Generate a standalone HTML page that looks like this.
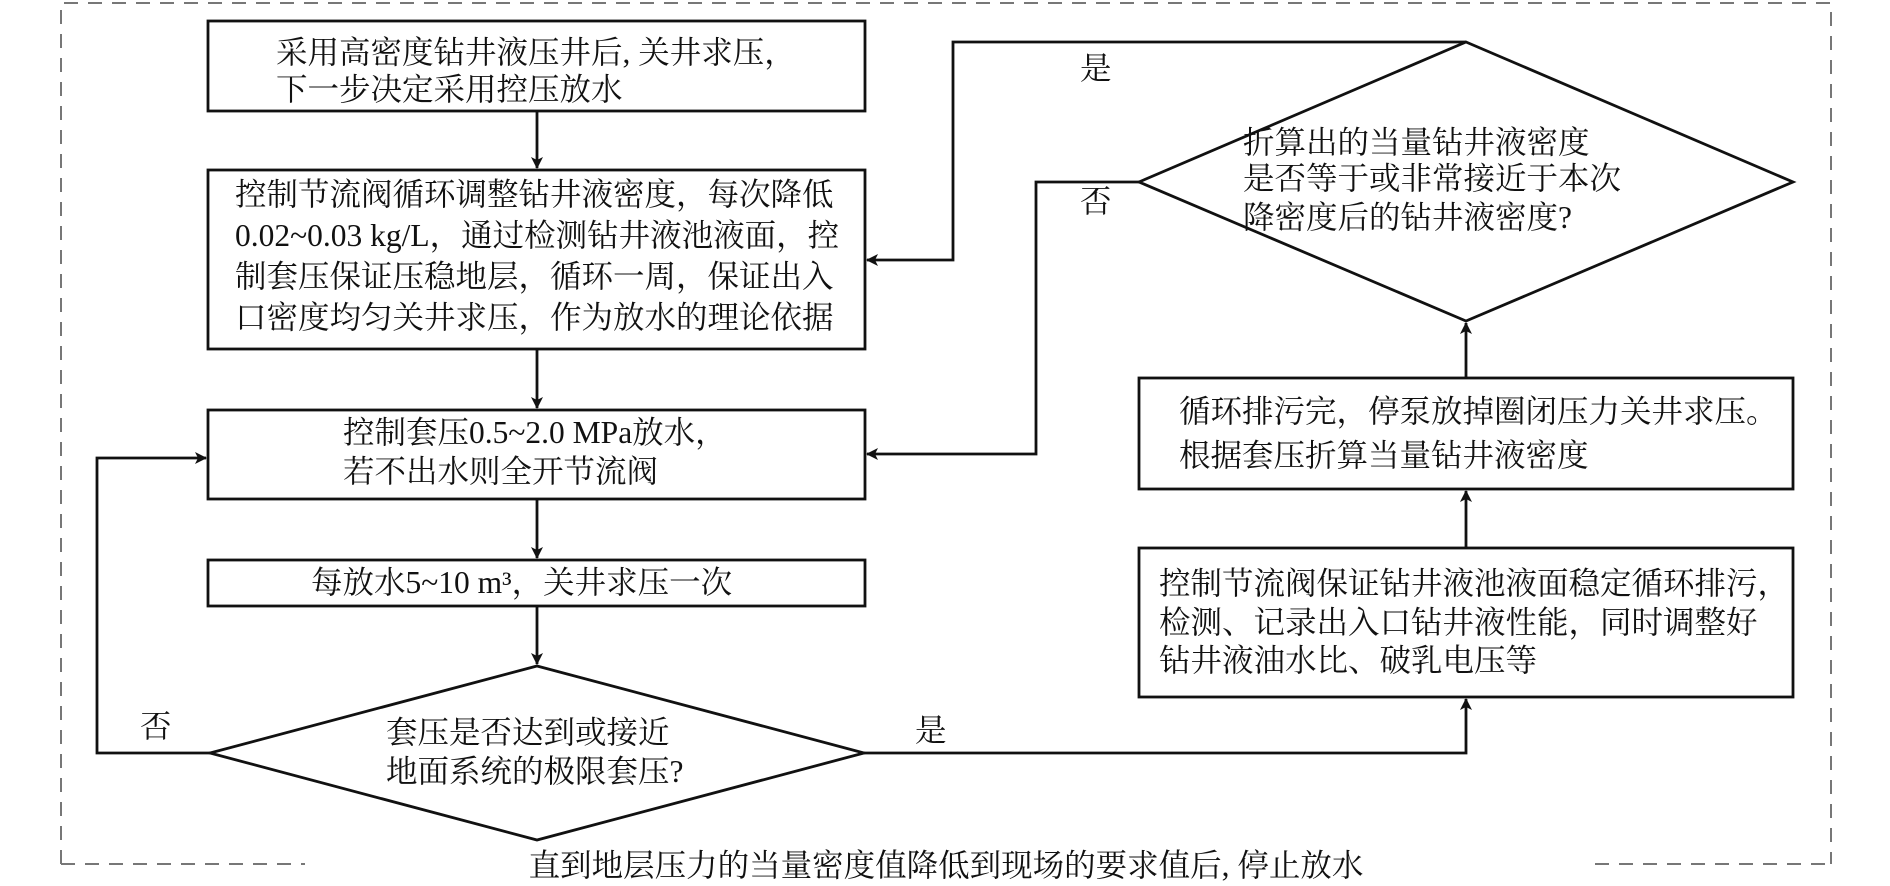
<!DOCTYPE html>
<html><head><meta charset="utf-8"><style>
html,body{margin:0;padding:0;background:#fff;}
svg{display:block;}
text{font-family:"Liberation Serif","Noto Serif CJK SC",serif;font-size:31.5px;fill:#111;}
</style></head><body>
<svg width="1890" height="886" viewBox="0 0 1890 886" xmlns="http://www.w3.org/2000/svg">
<defs><marker id="a" markerWidth="12" markerHeight="12" refX="11" refY="6" orient="auto" markerUnits="userSpaceOnUse"><path d="M0,0 L12,6 L0,12 L3,6 z" fill="#111"/></marker></defs>
<g fill="none" stroke="#777" stroke-width="2" stroke-dasharray="14,10">
<path d="M61,864 V3 H1831 V864"/>
<path d="M61,864 H305"/><path d="M1595,864 H1831"/>
</g>
<g fill="none" stroke="#111" stroke-width="2.8">
<rect x="208" y="21" width="657" height="90"/>
<rect x="208" y="170" width="657" height="179"/>
<rect x="208" y="410" width="657" height="89"/>
<rect x="208" y="560" width="657" height="46"/>
<polygon points="537,666 864,753 537,840 210,753"/>
<rect x="1139" y="548" width="654" height="149"/>
<rect x="1139" y="378" width="654" height="111"/>
<polygon points="1466,42 1793,182 1466,321 1139,182"/>
<path d="M537,111 V168" marker-end="url(#a)"/>
<path d="M537,349 V408" marker-end="url(#a)"/>
<path d="M537,499 V558" marker-end="url(#a)"/>
<path d="M537,606 V664" marker-end="url(#a)"/>
<path d="M210,753 H97 V458 H206" marker-end="url(#a)"/>
<path d="M864,753 H1466 V699" marker-end="url(#a)"/>
<path d="M1466,548 V491" marker-end="url(#a)"/>
<path d="M1466,378 V323" marker-end="url(#a)"/>
<path d="M1466,42 H953 V260 H867" marker-end="url(#a)"/>
<path d="M1139,182 H1036 V454 H867" marker-end="url(#a)"/>
</g>
<text x="276" y="63">采用高密度钻井液压井后, 关井求压，</text>
<text x="276" y="100">下一步决定采用控压放水</text>
<text x="235" y="205">控制节流阀循环调整钻井液密度，每次降低</text>
<text x="235" y="246">0.02~0.03 kg/L，通过检测钻井液池液面，控</text>
<text x="235" y="287">制套压保证压稳地层，循环一周，保证出入</text>
<text x="235" y="328">口密度均匀关井求压，作为放水的理论依据</text>
<text x="343" y="443">控制套压0.5~2.0 MPa放水，</text>
<text x="343" y="482">若不出水则全开节流阀</text>
<text x="311" y="593">每放水5~10 m³，关井求压一次</text>
<text x="386" y="743">套压是否达到或接近</text>
<text x="386" y="782">地面系统的极限套压?</text>
<text x="140" y="737">否</text>
<text x="915" y="741">是</text>
<text x="1159" y="594">控制节流阀保证钻井液池液面稳定循环排污，</text>
<text x="1159" y="633">检测、记录出入口钻井液性能，同时调整好</text>
<text x="1159" y="671">钻井液油水比、破乳电压等</text>
<text x="1179" y="422">循环排污完，停泵放掉圈闭压力关井求压。</text>
<text x="1179" y="466">根据套压折算当量钻井液密度</text>
<text x="1243" y="153">折算出的当量钻井液密度</text>
<text x="1243" y="189">是否等于或非常接近于本次</text>
<text x="1243" y="228">降密度后的钻井液密度?</text>
<text x="1080" y="79">是</text>
<text x="1080" y="212">否</text>
<text x="946" y="876" text-anchor="middle">直到地层压力的当量密度值降低到现场的要求值后, 停止放水</text>
</svg>
</body></html>
